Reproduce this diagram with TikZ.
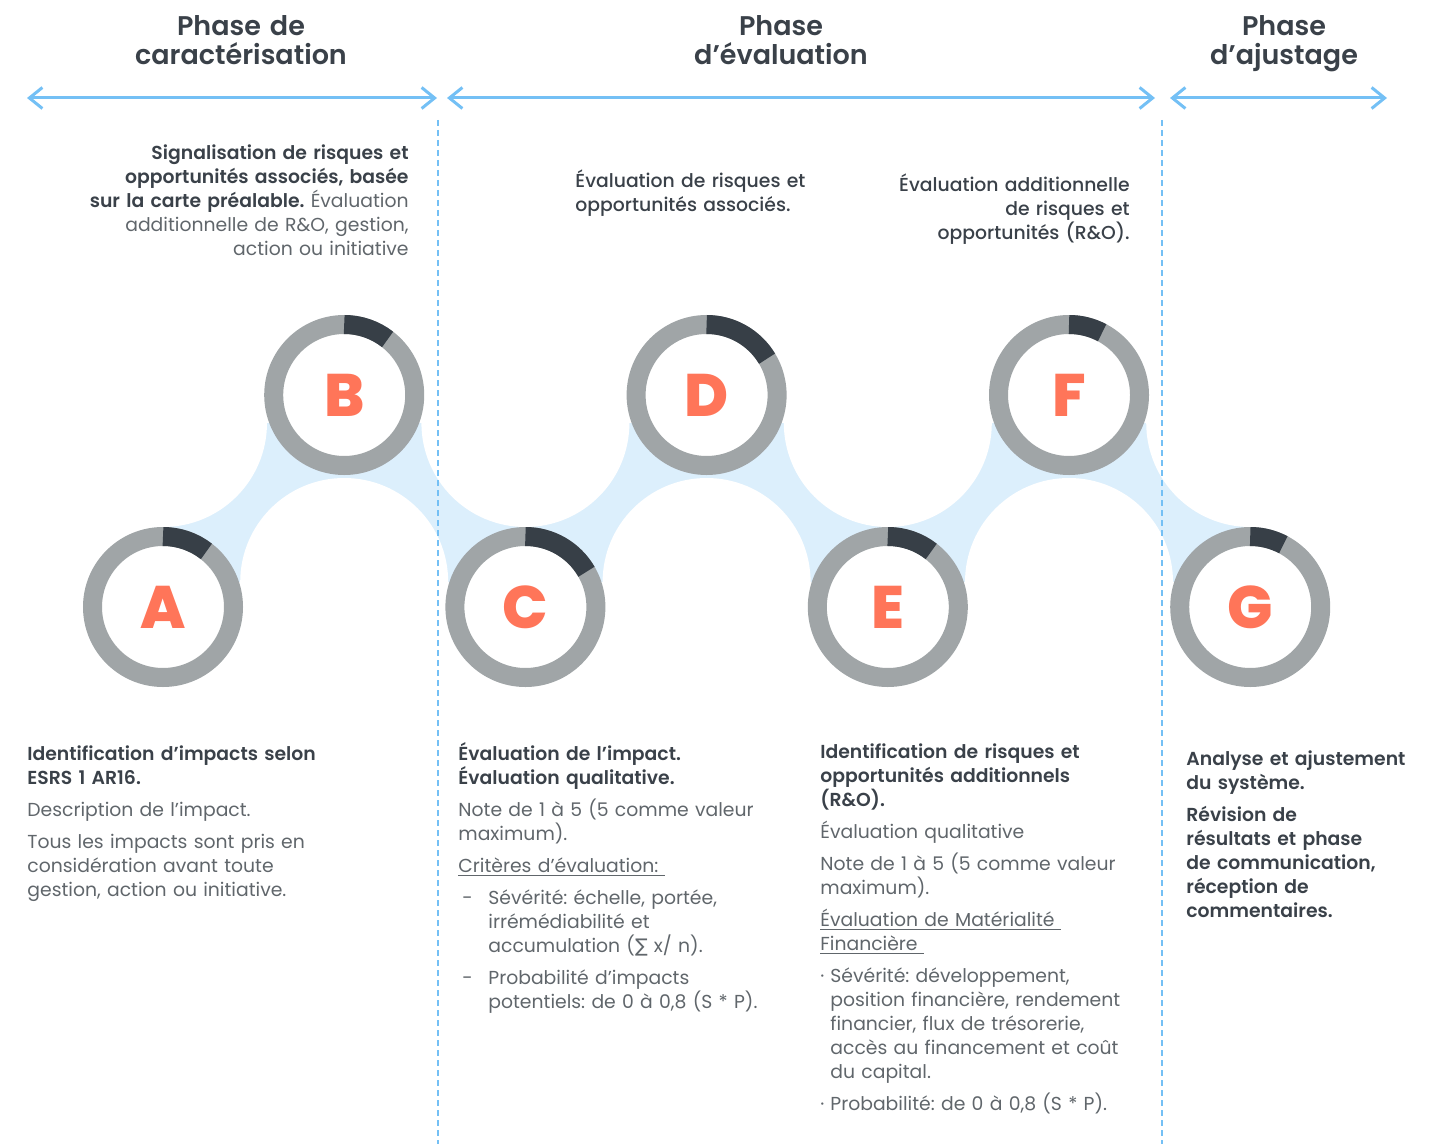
\documentclass[tikz,border=0pt]{standalone}
\usepackage{fontspec}
\IfFontExistsTF{Poppins SemiBold}{\setmainfont{Poppins}[BoldFont={Poppins SemiBold}]}{\setmainfont{Poppins}}
\IfFontExistsTF{Poppins ExtraBold}{\newfontfamily\letterfont{Poppins ExtraBold}}{\newfontfamily\letterfont{Poppins Bold}}
\IfFontExistsTF{Poppins Medium}{\newfontfamily\mediumfont{Poppins Medium}}{\newfontfamily\mediumfont{Poppins}}
\newfontfamily\sigmafont{DejaVu Sans}
\usepackage{xcolor}
\usepackage{tikz}
\usetikzlibrary{arrows.meta,backgrounds,positioning}
\frenchspacing
\hyphenpenalty=10000
\exhyphenpenalty=10000

\definecolor{ringgray}{RGB}{160,165,167}
\definecolor{ringdark}{RGB}{55,63,71}
\definecolor{lettercol}{RGB}{255,117,89}
\definecolor{bandblue}{RGB}{220,239,252}
\definecolor{lineblue}{RGB}{116,192,245}
\definecolor{textdark}{RGB}{58,65,73}
\definecolor{textgray}{RGB}{96,102,107}
\newcommand\headtxt[1]{\textcolor{textdark}{\bfseries #1}}

\begin{document}
\begin{tikzpicture}[
  x=0.5pt,y=-0.5pt,
  node distance=106pt and 90.6pt,
  on grid,
  >={Straight Barb[length=6.5pt,width=10.5pt]},
  stage/.style={circle,minimum size=70.5pt,inner sep=0pt,line width=9.5pt,
    draw=ringgray,fill=white,text=lettercol,font=\letterfont\fontsize{30}{30}\selectfont},
  done arc/.style={draw=ringdark,line width=9.5pt},
  phase arrow/.style={<->,draw=lineblue,line width=1.5pt},
  phase line/.style={draw=lineblue,line width=1pt,dash pattern=on 3pt off 2pt},
  phase title/.style={anchor=base,inner sep=0pt,text width=160pt,align=center,
    text=textdark,font=\bfseries\fontsize{13.5}{14.5}\selectfont},
  desc/.style={anchor=base west,inner sep=0pt,text width=200pt,align=left,
    text=textgray,font=\fontsize{9.4}{12}\selectfont},
  desc right/.style={desc,anchor=base east,align=right},
  lead/.style={desc,text=textdark,font=\mediumfont\fontsize{9.4}{12}\selectfont}]
  \useasboundingbox (0,0) rectangle (1443,1144);
  % a..g steps of the process, dark arc = share of the ring
  \node [stage] (a) at (163,607) {A};
  \node [stage] (b) [above right=of a] {B};
  \node [stage] (c) [below right=of b] {C};
  \node [stage] (d) [above right=of c] {D};
  \node [stage] (e) [below right=of d] {E};
  \node [stage] (f) [above right=of e] {F};
  \node [stage] (g) [below right=of f] {G};
  \foreach \n/\a in {a/52,b/52,c/30,d/31,e/52,f/62,g/62}
    \draw [done arc] (\n.center) ++(90:35.25pt) arc[start angle=90,end angle=\a,radius=35.25pt];

  \begin{scope}[on background layer]
    \fill [bandblue] ([yshift=92pt]a.center) rectangle ([yshift=12.5pt]g.center);
    \foreach \n in {a,c,e,g}
      \fill [white] ([yshift=92pt]\n.center) circle[radius=52pt];
    \foreach \n in {b,d,f}
      \fill [white] ([yshift=-93.5pt]\n.center) circle[radius=52pt];
  \end{scope}

  % phases
  \node [phase title] (t1) at (241,36) {Phase de\\caractérisation};
  \node [phase title] (t2) at (781,36) {Phase\\d’évaluation};
  \node [phase title] (t3) at (1284,36) {Phase\\d’ajustage};
  \coordinate (p1w) at (27,98);   \coordinate (p1e) at (437,98);
  \coordinate (p2w) at (447,98);  \coordinate (p2e) at (1155,98);
  \coordinate (p3w) at (1170,98); \coordinate (p3e) at (1387,98);
  \draw [phase arrow] (p1w) -- (p1e);
  \draw [phase arrow] (p2w) -- (p2e);
  \draw [phase arrow] (p3w) -- (p3e);
  \coordinate (s1n) at (437.5,120);  \coordinate (s1s) at (437.5,1144);
  \coordinate (s2n) at (1161.5,120); \coordinate (s2s) at (1161.5,1144);
  \draw [phase line] (s1n) -- (s1s);
  \draw [phase line] (s2n) -- (s2s);

  % texts above
  \node [desc right] (tb) at (409,160) {\headtxt{Signalisation de risques et}\\
    \headtxt{opportunités associés, basée}\\
    \headtxt{sur la carte préalable.} Évaluation\\
    additionnelle de R\&O, gestion,\\
    action ou initiative};
  \node [lead] (td) at (575,188) {Évaluation de risques et\\opportunités associés.};
  \node [lead,anchor=base east,align=right] (tf) at (1130,192)
    {Évaluation additionnelle\\de risques et\\opportunités (R\&O).};

  % texts below
  \node [desc] (ta) at (27,760) {\headtxt{Identification d’impacts selon}\\
    \headtxt{ESRS 1 AR16.}\\[4pt]
    Description de l’impact.\\[4pt]
    Tous les impacts sont pris en\\
    considération avant toute\\
    gestion, action ou initiative.};
  \node [desc] (tc) at (458,760) {\headtxt{Évaluation de l’impact.}\\
    \headtxt{Évaluation qualitative.}\\[4pt]
    Note de 1 à 5 (5 comme valeur\\
    maximum).\\[4pt]
    \underline{Critères d’évaluation:\ }\\[4pt]
    \makebox[15pt][l]{\hspace{2pt}-}Sévérité: échelle, portée,\\
    \hspace*{15pt}irrémédiabilité et\\
    \hspace*{15pt}accumulation ({\sigmafont ∑} x/ n).\\[4pt]
    \makebox[15pt][l]{\hspace{2pt}-}Probabilité d’impacts\\
    \hspace*{15pt}potentiels: de 0 à 0,8 (S * P).};
  \node [desc] (te) at (820,758) {\headtxt{Identification de risques et}\\
    \headtxt{opportunités additionnels}\\
    \headtxt{(R\&O).}\\[4pt]
    Évaluation qualitative\\[4pt]
    Note de 1 à 5 (5 comme valeur\\
    maximum).\\[4pt]
    \underline{Évaluation de Matérialité\ }\\
    \underline{Financière\ }\\[4pt]
    \makebox[5pt][l]{·}Sévérité: développement,\\
    \hspace*{5pt}position financière, rendement\\
    \hspace*{5pt}financier, flux de trésorerie,\\
    \hspace*{5pt}accès au financement et coût\\
    \hspace*{5pt}du capital.\\[4pt]
    \makebox[5pt][l]{·}Probabilité: de 0 à 0,8 (S * P).};
  \node [desc] (tg) at (1186,765) {\headtxt{Analyse et ajustement}\\
    \headtxt{du système.}\\[4pt]
    \headtxt{Révision de}\\
    \headtxt{résultats et phase}\\
    \headtxt{de communication,}\\
    \headtxt{réception de}\\
    \headtxt{commentaires.}};
\end{tikzpicture}
\end{document}
